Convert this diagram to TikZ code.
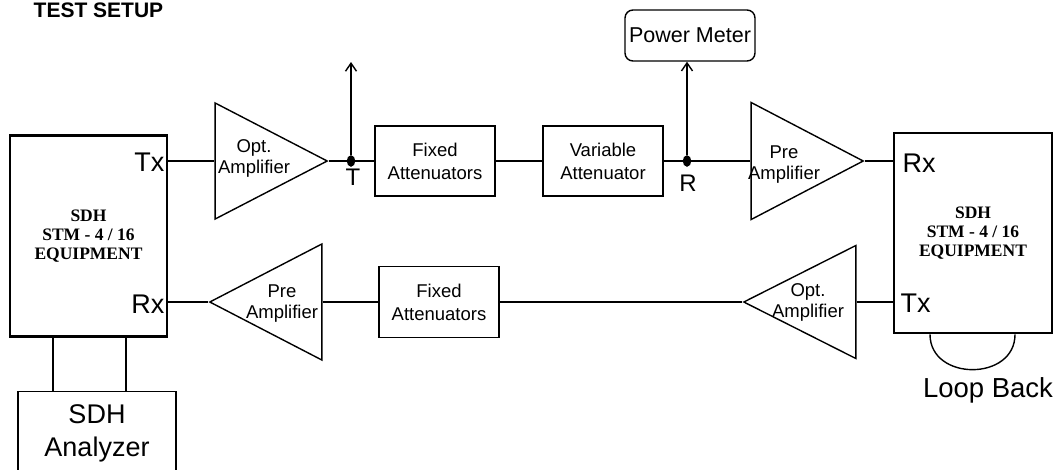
\documentclass[tikz,border=0pt]{standalone}
\usepackage{fontspec}
\setmainfont{Liberation Sans}
\newfontfamily\eqfont{Liberation Serif}
\usetikzlibrary{positioning,arrows.meta,shapes.geometric}

\begin{document}
\begin{tikzpicture}[
    x=1pt, y=-1pt,
    line width=1.4pt,
    box/.style={draw, rectangle, inner sep=0pt, minimum width=120pt, minimum height=70pt, align=center, font=\fontsize{18.5}{23}\selectfont},
    equip/.style={draw, rectangle, line width=2.8pt, inner sep=0pt, minimum width=157pt, minimum height=201pt, align=center, font=\eqfont\bfseries\fontsize{17.5}{19}\selectfont},
    amp/.style={draw, isosceles triangle, isosceles triangle stretches, inner sep=0pt, minimum width=116pt, minimum height=112pt},
    amptext/.style={align=center, inner sep=0pt, font=\fontsize{18.5}{21}\selectfont},
    port/.style={inner sep=0pt, font=\fontsize{27}{30}\selectfont},
    tap/.style={draw, fill, ellipse, inner sep=0pt, minimum width=7pt, minimum height=10pt},
    arr/.style={-{Straight Barb[length=8pt,width=11pt]}}
]
\clip (0,0) rectangle (1059,469);

\node[anchor=base west, inner sep=0pt, font=\bfseries\fontsize{21}{24}\selectfont] (title) at (33,17) {TEST SETUP};

\node[equip] (eqL) at (88.5,236) {SDH\\STM - 4 / 16\\EQUIPMENT};
\node[equip, minimum width=158pt, minimum height=200pt] (eqR) at (973,233) {SDH\\STM - 4 / 16\\EQUIPMENT};

\node[port, anchor=east] (ltx) at (165,162) {Tx};
\node[port, anchor=east] (lrx) at (165,304) {Rx};
\node[port, anchor=west] (rrx) at (902,163) {Rx};
\node[port, anchor=west] (rtx) at (900,303) {Tx};

\node[amp, anchor=apex] (oa1) at (329,161) {};
\node[amptext] (oa1t) at (254,158) {Opt.\\Amplifier};
\node[tap] (dT) at (351,161) {};
\node[port, font=\fontsize{24}{26}\selectfont] (lT) at (353,177) {T};
\coordinate (tup) at (351,62);
\node[box] (fa1) at (435,161) {Fixed\\Attenuators};
\node[box] (va) at (603,161) {Variable\\Attenuator};
\node[tap] (dR) at (687,161) {};
\node[port, font=\fontsize{24}{26}\selectfont] (lR) at (688,183) {R};
\node[draw, rounded corners=8pt, inner sep=0pt, minimum width=130pt, minimum height=51pt, font=\fontsize{21.5}{24}\selectfont] (pm) at (690,35.5) {Power Meter};
\node[amp, anchor=apex, minimum width=117pt] (pa1) at (865,161) {};
\node[amptext] (pa1t) at (784,165) {Pre\\Amplifier};

\node[amp, shape border rotate=180, anchor=apex] (pa2) at (208,302) {};
\node[amptext] (pa2t) at (282,304) {Pre\\Amplifier};
\node[box, minimum height=71pt] (fa2) at (439,302) {Fixed\\Attenuators};
\node[amp, shape border rotate=180, anchor=apex, minimum width=113pt] (oa2) at (742,302) {};
\node[amptext] (oa2t) at (808,302) {Opt.\\Amplifier};

\node[draw, rectangle, inner sep=0pt, minimum width=158pt, minimum height=84pt, anchor=north, align=center, font=\fontsize{27}{33}\selectfont] (an) at (97,391) {SDH\\Analyzer};
\node[inner sep=0pt, font=\fontsize{27.5}{30}\selectfont] (lb) at (988,390) {Loop Back};

\draw (eqL.east |- oa1.lower side) -- (oa1.lower side);
\draw (oa1.apex) -- (dT) -- (fa1);
\draw (fa1) -- (va);
\draw (va) -- (dR) -- (pa1.lower side);
\draw (pa1.apex) -- (eqR.west |- pa1.apex);
\draw[arr] (dT) -- (tup);
\draw[arr] (dR) -- (dR |- pm.south);

\draw (eqL.east |- pa2.apex) -- (pa2.apex);
\draw (pa2.lower side) -- (fa2);
\draw (fa2) -- (oa2.apex);
\draw (oa2.lower side) -- (eqR.west |- oa2.lower side);

\draw ([xshift=-35.5]eqL.south) -- ([xshift=-35.5]eqL.south |- an.north);
\draw ([xshift=37.5]eqL.south) -- ([xshift=37.5]eqL.south |- an.north);
\draw ([xshift=-43]eqR.south) .. controls +(0,47) and +(0,47) .. ([xshift=42]eqR.south);
\end{tikzpicture}
\end{document}
